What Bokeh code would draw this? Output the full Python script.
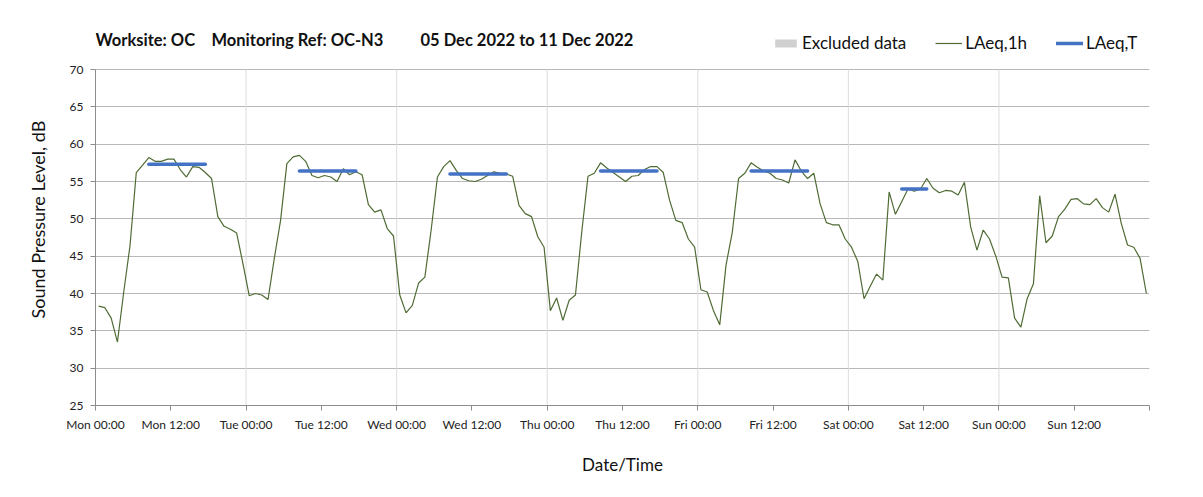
from bokeh.plotting import figure
from bokeh.models import Range1d, FixedTicker, Label, Legend, LegendItem, ColumnDataSource, Title
from bokeh.embed import file_html
from bokeh.resources import INLINE

# ---------------- data ----------------
day_names = ["Mon", "Tue", "Wed", "Thu", "Fri", "Sat", "Sun"]

mon = [38.3, 38.1, 36.7, 33.5, 40.2, 46.4, 56.2, 57.2, 58.2, 57.7, 57.7, 58.0,
       58.0, 56.6, 55.6, 57.0, 56.9, 56.2, 55.4, 50.3, 49.0, 48.6, 48.1, 44.0]
tue = [39.7, 40.0, 39.8, 39.2, 44.7, 49.8, 57.4, 58.3, 58.5, 57.7, 55.8, 55.5,
       55.8, 55.6, 55.0, 56.7, 55.9, 56.3, 55.9, 51.9, 50.9, 51.2, 48.7, 47.7]
wed = [39.8, 37.4, 38.4, 41.4, 42.2, 48.5, 55.6, 57.0, 57.8, 56.5, 55.4, 55.1,
       55.0, 55.3, 55.8, 56.3, 56.1, 56.0, 55.7, 51.8, 50.7, 50.3, 47.6, 46.2]
thu = [37.7, 39.4, 36.4, 39.1, 39.8, 48.2, 55.7, 56.1, 57.5, 56.8, 56.2, 55.6,
       55.0, 55.7, 55.8, 56.6, 57.0, 57.0, 56.2, 52.5, 49.8, 49.5, 47.3, 46.2]
fri = [40.5, 40.2, 37.7, 35.8, 43.8, 48.2, 55.4, 56.1, 57.5, 56.9, 56.4, 56.1,
       55.4, 55.2, 54.8, 57.9, 56.4, 55.4, 56.1, 52.0, 49.5, 49.2, 49.2, 47.3]
sat = [46.2, 44.3, 39.3, 41.0, 42.6, 41.8, 53.6, 50.6, 52.3, 54.0, 53.7, 54.0,
       55.4, 54.1, 53.5, 53.8, 53.7, 53.2, 54.9, 48.9, 45.8, 48.5, 47.3, 45.0]
sun = [42.2, 42.1, 36.7, 35.5, 39.3, 41.3, 53.1, 46.8, 47.7, 50.3, 51.3, 52.6,
       52.7, 52.0, 51.9, 52.7, 51.5, 50.9, 53.3, 49.4, 46.5, 46.2, 44.7, 40.0]

laeq_1h = mon + tue + wed + thu + fri + sat + sun

# LAeq,T period values (Mon..Sat) and their first/last hour of the day
laeq_t = [57.3, 56.4, 56.0, 56.4, 56.4, 54.0]
laeq_t_first_hour = [8, 8, 8, 8, 8, 8]
laeq_t_last_hour = [17, 17, 17, 17, 17, 12]

tick_labels = [f"{d} {t}" for d in day_names for t in ("00:00", "12:00")]
title_parts = ["Worksite: OC", "Monitoring Ref: OC-N3", "05 Dec 2022 to 11 Dec 2022"]

Y_MIN, Y_MAX = 25, 70

# ---------------- figure ----------------
FONT = "Lato"
hours = [i + 0.5 for i in range(len(laeq_1h))]

# frame: left 95, right 1149, top 20 (header row lives inside), bottom 405
W, H = 1195, 489
px_per_db = 336 / (Y_MAX - Y_MIN)
y_top = Y_MAX + (69 - 20) / px_per_db

p = figure(width=W, height=H, output_backend="svg", toolbar_location=None,
           x_range=Range1d(0, 168), y_range=Range1d(Y_MIN, y_top),
           min_border_left=95, min_border_right=W - 1149, min_border_top=20,
           min_border_bottom=H - 405)
p.outline_line_color = None
p.background_fill_color = "white"
p.border_fill_color = "white"

# grids
p.ygrid.ticker = FixedTicker(ticks=list(range(Y_MIN, Y_MAX + 1, 5)))
p.ygrid.grid_line_color = "#b8b8b8"
p.ygrid.grid_line_width = 1
p.xgrid.grid_line_color = None

day_bounds = [24 * i for i in range(1, 7)]
p.segment(x0=day_bounds, y0=[Y_MIN] * 6, x1=day_bounds, y1=[Y_MAX] * 6,
          line_color="#dcdcdc", line_width=1)

# axes
xt = [12 * i for i in range(15)]
p.xaxis.ticker = FixedTicker(ticks=xt)
over = {12 * i: lab for i, lab in enumerate(tick_labels)}
over[168] = ""
p.xaxis.major_label_overrides = over
p.yaxis.ticker = FixedTicker(ticks=list(range(Y_MIN, Y_MAX + 1, 5)))
p.yaxis.bounds = (Y_MIN, Y_MAX)
for ax in (p.xaxis[0], p.yaxis[0]):
    ax.axis_line_color = "#8c8c8c"
    ax.major_tick_line_color = "#8c8c8c"
    ax.major_tick_out = 5
    ax.major_tick_in = 0
    ax.minor_tick_line_color = None
    ax.major_label_text_font = FONT
    ax.major_label_text_font_size = "12px"
    ax.major_label_text_color = "#222222"
    ax.axis_label_text_font = FONT
    ax.axis_label_text_font_style = "normal"
    ax.axis_label_text_font_size = "17px"
    ax.axis_label_text_color = "#111111"

p.xaxis.axis_label = "Date/Time"
p.xaxis.major_label_standoff = 6
p.xaxis.axis_label_standoff = 19
p.yaxis.major_label_standoff = 7

# y-axis title, placed along the 25..70 span (the frame also holds the header row)
p.add_layout(Title(text="Sound Pressure Level, dB", align="left", offset=87,
                   standoff=35, text_font=FONT, text_font_style="normal",
                   text_font_size="18px", text_color="#111111"), "left")

# data
src = ColumnDataSource(dict(x=hours, y=laeq_1h))
r_1h = p.line("x", "y", source=src, line_color="#4f6b33", line_width=1.2)

x0 = [24 * d + h + 0.5 for d, h in enumerate(laeq_t_first_hour)]
x1 = [24 * d + h + 0.5 for d, h in enumerate(laeq_t_last_hour)]
seg = ColumnDataSource(dict(x0=x0, x1=x1, y=laeq_t))
r_t = p.segment("x0", "y", "x1", "y", source=seg, line_color="#4472c4",
                line_width=3.5, line_cap="round")

# excluded-data renderer (no excluded periods this week; kept off-range for the legend)
r_ex = p.rect(x=[-50], y=[0], width=1, height=1, fill_color="#d0d0d0", line_color=None)

legend = Legend(items=[LegendItem(label="Excluded data", renderers=[r_ex]),
                       LegendItem(label="LAeq,1h", renderers=[r_1h]),
                       LegendItem(label="LAeq,T", renderers=[r_t])],
                orientation="horizontal", location=(677, 352),
                label_text_font=FONT, label_text_font_size="17px",
                label_text_color="#111111",
                glyph_width=27, glyph_height=10, spacing=29,
                label_standoff=3, background_fill_alpha=0,
                border_line_color=None, padding=0, margin=0)
p.add_layout(legend, "center")

# title, as three pieces on the header row
title_x_px = [0, 116, 325]
title_y = Y_MAX + (69 - 39) / px_per_db
for txt, xo in zip(title_parts, title_x_px):
    p.add_layout(Label(x=0, y=title_y, x_offset=xo, text=txt, text_font=FONT,
                       text_font_style="bold", text_font_size="16.5px",
                       text_color="#111111", text_baseline="middle"))

open("out.html", "w").write(file_html(p, INLINE))
